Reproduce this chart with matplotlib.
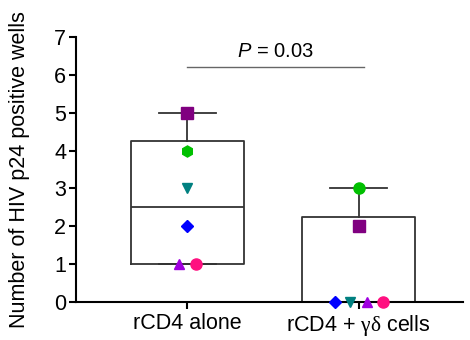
import numpy as np
import matplotlib
matplotlib.use("Agg")
import matplotlib.pyplot as plt

plt.rcParams['font.family'] = ['Liberation Sans', 'DejaVu Sans']
plt.rcParams['mathtext.fontset'] = 'custom'
plt.rcParams['mathtext.rm'] = 'Liberation Serif'
plt.rcParams['mathtext.it'] = 'Liberation Sans:italic'

categories = ["rCD4 alone", r"rCD4 + $\mathrm{\gamma\delta}$ cells"]
group1 = [5, 4, 3, 2, 1, 1]
group2 = [3, 2, 0, 0, 0, 0]
markers1 = ['s', 'h', 'v', 'D', '^', 'o']
markers2 = ['o', 's', 'D', 'v', '^', 'o']
colors1 = ['#800080', '#00C000', '#008080', '#0000FF', '#A000E0', '#FF1080']
colors2 = ['#00C000', '#800080', '#0000FF', '#008080', '#A000E0', '#FF1080']
offsets1 = [0, 0, 0, 0, -0.05, 0.05]
offsets2 = [0, 0, -0.14, -0.047, 0.047, 0.14]
yticks = [0, 1, 2, 3, 4, 5, 6, 7]
p_text = "0.03"


def stats(vals, label):
    v = np.asarray(vals, float)
    q1, med, q3 = np.percentile(v, [25, 50, 75], method='weibull')
    return dict(med=med, q1=q1, q3=q3, whislo=v.min(), whishi=v.max(), fliers=[], label=label)


fig = plt.figure(figsize=(4.7, 3.4), dpi=100)
ax = fig.add_axes([76/470, 38/340, (463-76)/470, (302-37)/340])

bstats = [stats(group1, categories[0]), stats(group2, categories[1])]
lc = '#333333'
ax.bxp(bstats, positions=[0, 1], widths=0.66, showfliers=False,
       boxprops=dict(color=lc, linewidth=1.3),
       whiskerprops=dict(color=lc, linewidth=1.3),
       capprops=dict(color=lc, linewidth=1.3),
       medianprops=dict(color=lc, linewidth=1.3),
       capwidths=0.33)

for pos, vals, mks, cols, offs in [(0, group1, markers1, colors1, offsets1),
                                   (1, group2, markers2, colors2, offsets2)]:
    for v, m, c, o in zip(vals, mks, cols, offs):
        size = 8 if m in ('s', 'h', 'o') else 7
        if m == 'D':
            size = 6
        ax.plot(pos + o, v, marker=m, color=c, markersize=size, linestyle='none',
                clip_on=False, zorder=5)

ax.set_xlim(-0.65, 1.61)
ax.set_ylim(0, 7)
ax.set_yticks(yticks)
ax.set_xticks([0, 1])
ax.set_xticklabels(categories, fontsize=15.5)
ax.tick_params(axis='y', labelsize=15.5, width=1.5, length=5, pad=2)
ax.tick_params(axis='x', width=1.5, length=5, pad=3)
ax.spines['top'].set_visible(False)
ax.spines['right'].set_visible(False)
ax.spines['left'].set_linewidth(1.5)
ax.spines['bottom'].set_linewidth(1.5)
ax.set_ylabel("Number of HIV p24 positive wells", fontsize=15.5)
ax.yaxis.set_label_coords(-0.118, 0.5)

ax.plot([0, 1.03], [6.22, 6.22], color='#666666', linewidth=1)
ax.text(0.515, 6.36, r"$\mathit{P}$ = " + p_text, ha='center', va='bottom', fontsize=14.5)

fig.savefig("out.png", dpi=100)
